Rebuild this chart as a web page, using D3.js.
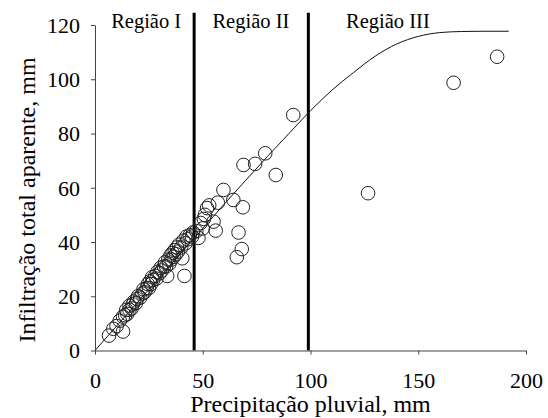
<!DOCTYPE html>
<html>
<head>
<meta charset="utf-8">
<script src="https://cdn.jsdelivr.net/npm/d3@7"></script>
<style>
  body { margin: 0; background: #fff; }
  svg { display: block; }
  svg text { font-family: "Liberation Serif", "Times New Roman", serif !important; fill: #000; }
</style>
</head>
<body>
<svg id="chart" width="548" height="418"></svg>
<script>
// ---- Data ----
const xTicks = [0, 50, 100, 150, 200];
const yTicks = [0, 20, 40, 60, 80, 100, 120];
const xTitle = "Precipitação pluvial, mm";
const yTitle = "Infiltração total aparente, mm";

const regionNames = ["Região I", "Região II", "Região III"];
const regionBounds = [46, 99];          // vertical separator lines (mm)
const regionLabelX = [7.5, 54.5, 116.5]; // label start positions (mm)

// observed points: precipitation (x) and infiltration (y)
const obsX = [
  6.5, 8.5, 10, 13, 11.5, 13, 14, 14.5, 15, 16, 16, 17, 17.5, 18, 19, 19.5, 20, 21, 22, 22.5,
  23, 24, 24.5, 25, 25.5, 26, 26.5, 27, 28, 28.5, 29, 30, 30.5, 31, 32, 32.5, 33, 33.5, 34, 34.5,
  35, 35.5, 36, 36.5, 37, 37.5, 38, 38.5, 39, 40, 40.5, 41, 41.5, 42, 42.5, 43, 44, 45, 45.5,
  47, 48, 49, 50, 50.5, 51, 52, 53, 55, 56, 57, 59.6, 64.2, 68.6, 66.6, 68.1, 65.8, 68.9, 74.3, 79, 83.9, 92,
  126.7, 166.4, 186.6
];
const obsY = [
  5.5, 8, 9, 7, 11, 12.5, 13, 15, 13.5, 15, 16.5, 15.5, 17, 18, 17.5, 19, 20, 19.5, 21, 22.5,
  21.5, 23, 24.5, 23, 25.5, 24.5, 27, 26, 27.5, 26.5, 29, 28.5, 30.5, 29.5, 31, 32.5, 31, 27.5, 33.5, 32,
  35, 33.5, 36, 34.5, 37, 35.5, 38, 36.5, 39, 38, 34, 40.5, 27.5, 39.5, 42, 41, 42.5, 42, 43.5,
  44, 41.5, 47, 45, 48.5, 50, 52.5, 53.5, 47.5, 44.2, 54.5, 59.2, 55.5, 52.8, 43.5, 37.4, 34.4, 68.4, 68.8, 72.7, 64.7, 86.8,
  58, 98.7, 108.3
];

// fitted curve
const fitX = [0, 10, 20, 30, 40, 50, 60, 70, 80, 90, 100, 110, 120, 130, 140, 150, 160, 170, 180, 192];
const fitY = [0, 9, 18, 27, 36, 45, 54, 62.8, 71.5, 80, 88.4, 96, 102.5, 108.5, 113, 115.8, 117.2, 117.6, 117.7, 117.7];

// ---- Drawing ----
const FONT = "'Liberation Serif', 'Times New Roman', serif";
const svg = d3.select("#chart");
const x = d3.scaleLinear().domain([0, 200]).range([95, 526]);
const y = d3.scaleLinear().domain([0, 120]).range([350.5, 25]);
const axisColor = "#444";

// region separators
svg.append("g").selectAll("line").data(regionBounds).join("line")
  .attr("x1", d => x(d)).attr("x2", d => x(d))
  .attr("y1", y(0)).attr("y2", y(124.5))
  .attr("stroke", "#000").attr("stroke-width", 3);

// region labels
svg.append("g").selectAll("text").data(regionNames).join("text")
  .attr("x", (d, i) => x(regionLabelX[i]))
  .attr("y", 28)
  .style("font-family", FONT).style("font-size", "20.5px")
  .text(d => d);

// fitted curve
const fit = fitX.map((v, i) => [v, fitY[i]]);
svg.append("path").datum(fit)
  .attr("fill", "none").attr("stroke", "#111").attr("stroke-width", 1)
  .attr("d", d3.line().x(d => x(d[0])).y(d => y(d[1])).curve(d3.curveMonotoneX));

// observed points
const obs = obsX.map((v, i) => [v, obsY[i]]);
svg.append("g").selectAll("circle").data(obs).join("circle")
  .attr("cx", d => x(d[0])).attr("cy", d => y(d[1]))
  .attr("r", 6.8)
  .attr("fill", "none").attr("stroke", "#222").attr("stroke-width", 1);

// axes
const gx = svg.append("g").attr("transform", `translate(0,${y(0)})`)
  .call(d3.axisBottom(x).tickValues(xTicks).tickSize(4).tickSizeOuter(0));
gx.attr("font-family", null).attr("font-size", null);
gx.select(".domain").attr("stroke", axisColor);
gx.selectAll(".tick line").attr("stroke", axisColor);
gx.selectAll(".tick text").attr("y", 37).attr("dy", 0)
  .style("font-family", FONT).style("font-size", "22px").attr("fill", "#000");

const gy = svg.append("g").attr("transform", `translate(${x(0)},0)`)
  .call(d3.axisLeft(y).tickValues(yTicks).tickSize(4).tickSizeOuter(0));
gy.attr("font-family", null).attr("font-size", null);
gy.select(".domain").attr("stroke", axisColor);
gy.selectAll(".tick line").attr("stroke", axisColor);
gy.selectAll(".tick text").attr("x", -15).attr("dy", "0.33em")
  .style("font-family", FONT).style("font-size", "22px").attr("fill", "#000");

// axis titles
svg.append("text").attr("x", x(100)).attr("y", 412)
  .attr("text-anchor", "middle")
  .style("font-family", FONT).style("font-size", "24px").text(xTitle);
svg.append("text")
  .attr("transform", "translate(35,200) rotate(-90)")
  .attr("text-anchor", "middle")
  .style("font-family", FONT).style("font-size", "24px").text(yTitle);
</script>
</body>
</html>
